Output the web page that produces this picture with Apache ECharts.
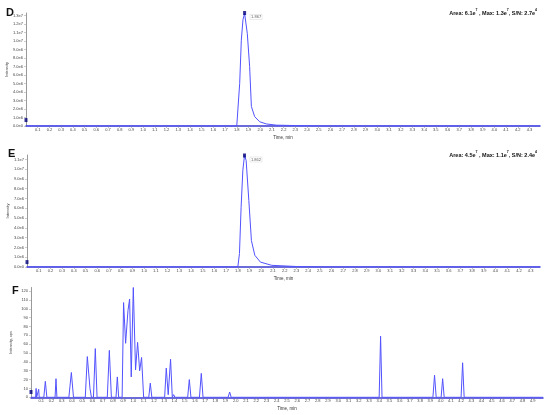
<!DOCTYPE html>
<html>
<head>
<meta charset="utf-8">
<script src="https://cdn.jsdelivr.net/npm/echarts@6/dist/echarts.min.js"></script>
<style>
  html, body { margin: 0; padding: 0; background: #fff; }
  #chart { width: 550px; height: 415px; }
</style>
</head>
<body>
<div id="chart"></div>
<script>
// panel D - chromatogram (time in min, intensity)
var dTimes = [0, 1.80, 1.81, 1.825, 1.839, 1.853, 1.867, 1.89, 1.91, 1.925, 1.953, 1.996, 2.053, 2.138, 2.3, 2.5, 4.39];
var dValues = [0, 0, 0.1e6, 5.0e6, 10.1e6, 12.5e6, 13.25e6, 10.9e6, 7.0e6, 2.3e6, 1.1e6, 0.5e6, 0.24e6, 0.1e6, 0.05e6, 0, 0];
// panel E
var eTimes = [0, 1.80, 1.814, 1.828, 1.843, 1.857, 1.871, 1.894, 1.916, 1.945, 1.993, 2.09, 2.3, 2.5, 4.38];
var eValues = [0, 0, 1.37e6, 6.1e6, 9.9e6, 11.4e6, 10.9e6, 6.8e6, 2.7e6, 1.2e6, 0.5e6, 0.17e6, 0.05e6, 0, 0];
// panel F
var fTimes = [0, 0.045, 0.05, 0.055, 0.07, 0.075, 0.08,
  0.125, 0.14, 0.155, 0.235, 0.244, 0.253, 0.37, 0.394, 0.415, 0.445, 0.455, 0.465,
  0.53, 0.55, 0.576, 0.59, 0.61, 0.628, 0.645, 0.745, 0.765, 0.785, 0.83, 0.843, 0.856,
  0.89, 0.904, 0.924, 0.947, 0.963, 0.979, 0.999, 1.021, 1.041, 1.061, 1.08, 1.1,
  1.15, 1.165, 1.18, 1.305, 1.321, 1.34, 1.363, 1.38, 1.393, 1.405,
  1.53, 1.546, 1.562, 1.645, 1.663, 1.68, 1.925, 1.94, 1.955,
  3.4, 3.414, 3.428, 3.925, 3.941, 3.957, 4.005, 4.02, 4.035, 4.2, 4.215, 4.23, 5.0];
var fValues = [0, 0, 10, 0, 0, 9, 0,
  0, 18, 0, 0, 21, 0, 0, 28, 0, 0, 2, 0,
  0, 46, 10, 0, 0, 55, 0, 0, 53, 0, 0, 23, 0,
  0, 107, 61, 98, 111, 23, 124, 31, 62, 30, 45, 0,
  0, 16, 0, 0, 33, 3, 43, 0, 3, 0,
  0, 20, 0, 0, 27, 0, 0, 6, 0,
  0, 69, 0, 0, 25, 0, 0, 21, 0, 0, 39, 0, 0];

var dStart = [0, 0.7e6], dPeak = [1.867, 1.33e7], dPeakLabel = '1.867';
var eStart = [0, 0.5e6], ePeak = [1.857, 1.14e7], ePeakLabel = '1.862';
var fStart = [0, 6];

function pairs(t, v) {
  return t.map(function (x, i) { return [x, v[i]]; });
}

var lineColor = '#5252ff';
var markColor = '#00007a';
var fontFam = 'Liberation Sans, Arial, sans-serif';

function expFmt(v) {
  return v.toExponential(1).replace('e+', 'e');
}

function xAxisCfg(idx, max) {
  return {
    type: 'value', gridIndex: idx, min: 0, max: max, interval: 0.1,
    name: 'Time, min', nameLocation: 'middle', nameGap: 9, nameMoveOverlap: false,
    nameTextStyle: { fontSize: 4.5, color: '#333', fontFamily: fontFam },
    axisLine: { lineStyle: { color: '#3a3ad0', width: 1.5 } },
    axisTick: { length: 2, lineStyle: { color: '#888', width: 0.5 } },
    splitLine: { show: false },
    axisLabel: {
      fontSize: 4, color: '#444', margin: 2, fontFamily: fontFam,
      showMinLabel: false, showMaxLabel: false,
      formatter: function (v) { return v.toFixed(1); }
    }
  };
}

function yAxisCfg(idx, max, interval, name, gap, fmt) {
  return {
    type: 'value', gridIndex: idx, min: 0, max: max, interval: interval,
    name: name, nameLocation: 'middle', nameGap: gap, nameRotate: 90, nameMoveOverlap: false,
    nameTextStyle: { fontSize: 4, color: '#444', fontFamily: fontFam },
    axisLine: { show: true, lineStyle: { color: '#999', width: 1 } },
    axisTick: { show: true, length: 2, lineStyle: { color: '#999', width: 0.5 } },
    splitLine: { show: false },
    axisLabel: {
      fontSize: 4, color: '#444', margin: 3, fontFamily: fontFam,
      showMaxLabel: false, formatter: fmt
    }
  };
}

function lineSeries(idx, t, v) {
  return {
    type: 'line', xAxisIndex: idx, yAxisIndex: idx,
    data: pairs(t, v), showSymbol: false, silent: true,
    lineStyle: { color: lineColor, width: 1 }, z: 3
  };
}

function markSeries(idx, pts, label) {
  return {
    type: 'scatter', xAxisIndex: idx, yAxisIndex: idx,
    symbol: 'rect', symbolSize: [3, 4], silent: true, z: 4,
    itemStyle: { color: markColor },
    data: pts.map(function (p, i) {
      var item = { value: p };
      if (label && i === 1) {
        item.label = {
          show: true, position: 'right', offset: [-1, 4], formatter: label,
          fontSize: 4, color: '#333', fontFamily: fontFam,
          borderColor: '#cfcfcf', borderWidth: 0.5, padding: [0.5, 1]
        };
      }
      return item;
    })
  };
}

var statRich = {
  b: { fontSize: 5.5, fontWeight: 'bold', color: '#111', fontFamily: fontFam, lineHeight: 8, verticalAlign: 'bottom' },
  s: { fontSize: 3.5, fontWeight: 'bold', color: '#111', fontFamily: fontFam, lineHeight: 8, verticalAlign: 'top' }
};
var letterStyle = { fontSize: 11, fontWeight: 'bold', color: '#111', fontFamily: fontFam };

function gridCfg(left, right, top, bottom) {
  return { left: left, right: right, top: top, bottom: bottom, containLabel: false, outerBoundsMode: 'none' };
}

var chart = echarts.init(document.getElementById('chart'), null, { renderer: 'canvas' });
var option = {
  animation: false,
  backgroundColor: '#fff',
  title: [
    { text: 'D', left: 6, top: 7, padding: 0, textStyle: letterStyle },
    { text: 'E', left: 8, top: 148, padding: 0, textStyle: letterStyle },
    { text: 'F', left: 12, top: 285, padding: 0, textStyle: letterStyle },
    { text: '{b|Area: 6.1e}{s|7}{b| , Max: 1.3e}{s|7}{b|, S/N: 2.7e}{s|4}', right: 13, top: 8, padding: 0,
      textStyle: { rich: statRich } },
    { text: '{b|Area: 4.5e}{s|7}{b| , Max: 1.1e}{s|7}{b|, S/N: 2.4e}{s|4}', right: 13, top: 150, padding: 0,
      textStyle: { rich: statRich } }
  ],
  grid: [
    gridCfg(26, 10, 13, 289),
    gridCfg(27, 10, 155, 148),
    gridCfg(31, 7, 287.5, 17.7)
  ],
  xAxis: [xAxisCfg(0, 4.39), xAxisCfg(1, 4.38), xAxisCfg(2, 5.0)],
  yAxis: [
    yAxisCfg(0, 1.33e7, 1e6, 'Intensity', 17, expFmt),
    yAxisCfg(1, 1.145e7, 1e6, 'Intensity', 17, expFmt),
    yAxisCfg(2, 124, 10, 'Intensity, cps', 18, function (v) { return String(v); })
  ],
  series: [
    lineSeries(0, dTimes, dValues),
    lineSeries(1, eTimes, eValues),
    lineSeries(2, fTimes, fValues),
    markSeries(0, [dStart, dPeak], dPeakLabel),
    markSeries(1, [eStart, ePeak], ePeakLabel),
    markSeries(2, [fStart], null)
  ]
};
chart.setOption(option);
</script>
</body>
</html>
